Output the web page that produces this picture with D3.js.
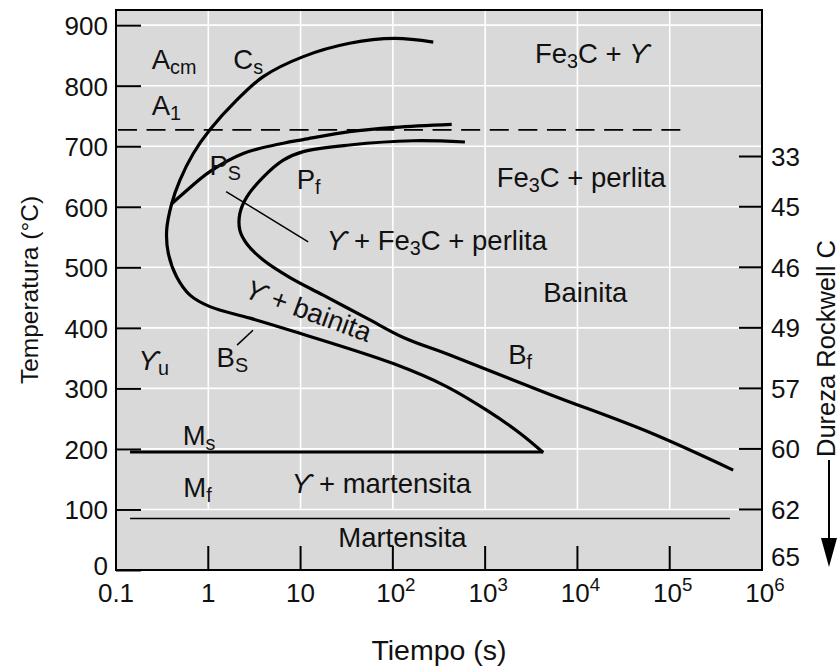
<!DOCTYPE html>
<html>
<head>
<meta charset="utf-8">
<script src="https://d3js.org/d3.v7.min.js"></script>
<style>
    body { margin: 0; background: #fff; }
    text { font-family: "Liberation Sans", Arial, sans-serif; fill: #111; }
</style>
</head>
<body>
<div id="ttt_diagram"></div>
<script>
// Axis ticks
const timeTicks = [0.1, 1, 10, 100, 1e3, 1e4, 1e5, 1e6];
const timeTickLabels = ["0.1", "1", "10", "10^{2}", "10^{3}", "10^{4}", "10^{5}", "10^{6}"];
const tempTicks = [0, 100, 200, 300, 400, 500, 600, 700, 800, 900];

// Rockwell hardness scale on the right (label, temperature it sits at)
const hardnessLabels = ["33", "45", "46", "49", "57", "60", "62", "65"];
const hardnessTemps = [683, 600, 500, 400, 300, 200, 100, 22];

// Start curve (Cs, nose, then Bs down to Ms)
const startTime = [274, 105, 34, 10.7, 3.94, 2.03, 1.04, 0.688, 0.493, 0.401, 0.354, 0.369, 0.455, 0.634, 1.04, 2.83, 7.68, 101, 383, 1038, 2383, 4260];
const startTemp = [872, 878, 870, 848, 815, 776, 727, 688, 644, 605, 561, 523, 484, 454, 435, 416, 396, 341, 303, 264, 226, 194];

// Pearlite start curve (Ps)
const psTime = [0.401, 0.536, 1.04, 2.39, 6.5, 10.7, 34, 105, 434];
const psTemp = [605, 622, 658, 688, 705, 711, 724, 731, 736];

// Finish curve (Pf then Bf)
const finishTime = [604, 166, 34, 10.7, 6.5, 3.94, 2.61, 2.2, 2.2, 2.61, 3.94, 7.68, 17.6, 52, 130, 415, 5035, 61000, 487000];
const finishTemp = [707, 709, 702, 691, 677, 649, 616, 589, 561, 539, 512, 483, 454, 416, 384, 355, 290, 227, 165];

// Horizontal lines: A1 (dashed), Ms, Mf
const a1Temp = 727, a1Time = [0.105, 152000];
const msTemp = 195, msTime = [0.142, 4260];
const mfTemp = 85, mfTime = [0.142, 449000];

// Leader lines [time, temp] pairs
const psLeader = [[1.56, 625], [12.1, 542]];
const bsLeader = [[3.05, 396], [2.05, 371.5]];

// Region labels
const labelTexts = ["A_{cm}", "C_{s}", "A_{1}", "P_{S}", "P_{f}", "Fe_{3}C + ϒ", "Fe_{3}C + perlita",
    "ϒ + Fe_{3}C + perlita", "Bainita", "ϒ + bainita", "B_{S}", "ϒ_{u}", "B_{f}", "M_{s}", "M_{f}",
    "ϒ + martensita", "Martensita"];
const labelTime = [0.244, 1.87, 0.244, 1.03, 9.07, 3470, 1333, 19.2, 4260, 2.39, 1.23, 0.175, 1780, 0.528, 0.536, 8.0, 25.6];
const labelTemp = [827, 827, 751, 652, 630, 838, 633, 528, 443, 451, 336, 330, 341, 206, 121, 127, 38.5];
const labelAngle = [0, 0, 0, 0, 0, 0, 0, 0, 0, 20, 0, 0, 0, 0, 0, 0, 0];

// plain text piece, with the gamma sign set in italics
function plainText(sel, s, dy) {
    s.split(/(ϒ)/).filter(p => p.length).forEach((p, k) => {
        const t = sel.append("tspan").text(p);
        if (k == 0 && dy) t.attr("dy", dy);
        if (p == "ϒ") t.attr("font-style", "italic");
    });
}

// write text with _{sub} and ^{sup} parts as tspans
function richText(sel, str) {
    const re = /([_^])\{([^}]*)\}/g;
    let last = 0, m, shift = 0;
    while ((m = re.exec(str)) !== null) {
        if (m.index > last) {
            plainText(sel, str.slice(last, m.index), -shift);
            shift = 0;
        }
        const d = m[1] == "_" ? 5 : -11;
        sel.append("tspan").attr("dy", d - shift).attr("font-size", "0.72em").text(m[2]);
        shift = d;
        last = re.lastIndex;
    }
    if (last < str.length) {
        plainText(sel, str.slice(last), -shift);
    }
}

// set the dimensions of the plot
const margin = { top: 10, right: 78, bottom: 98, left: 116 };
const W = 840, H = 668;
const width = W - margin.left - margin.right;
const height = H - margin.top - margin.bottom;

var svg = d3.select("#ttt_diagram")
    .append("svg")
    .attr("width", W)
    .attr("height", H)
    .style("font-size", "26px");

var x = d3.scaleLog()
    .domain([0.1, 1e6])
    .range([margin.left, margin.left + width]);
var y = d3.scaleLinear()
    .domain([0, 925])
    .range([margin.top + height, margin.top]);

// background
svg.append("rect")
    .attr("x", x(0.1)).attr("y", y(925))
    .attr("width", width).attr("height", height)
    .attr("fill", "#d9d9d9");

// white grid
svg.append("g")
    .selectAll("line")
    .data(timeTicks.slice(1, -1))
    .enter().append("line")
    .attr("x1", d => x(d)).attr("x2", d => x(d))
    .attr("y1", y(925)).attr("y2", y(100))
    .attr("stroke", "#fff").attr("stroke-width", 1.6);
svg.append("g")
    .selectAll("line")
    .data(tempTicks.slice(1))
    .enter().append("line")
    .attr("x1", x(0.1)).attr("x2", x(1e6))
    .attr("y1", d => y(d)).attr("y2", d => y(d))
    .attr("stroke", "#fff").attr("stroke-width", 1.6);

// Left axis
var yAxis = svg.append("g")
    .attr("transform", "translate(" + margin.left + ",0)")
    .call(d3.axisLeft(y).tickValues(tempTicks).tickSize(-25).tickPadding(8));
yAxis.select(".domain").remove();
yAxis.selectAll("line").attr("stroke-width", 2);
yAxis.selectAll("text")
    .attr("font-size", 26).attr("font-family", null)
    .attr("dy", d => d == 0 ? "0.18em" : "0.36em");

// bottom ticks (inside)
svg.append("g")
    .selectAll("line")
    .data(timeTicks.slice(1, -1))
    .enter().append("line")
    .attr("x1", d => x(d)).attr("x2", d => x(d))
    .attr("y1", y(0)).attr("y2", y(0) - 24)
    .attr("stroke", "#000").attr("stroke-width", 2);

// bottom tick labels
svg.append("g")
    .selectAll("text")
    .data(timeTicks)
    .enter().append("text")
    .attr("x", (d, i) => x(d) + (i >= 3 ? 3 : 0))
    .attr("y", y(0) + 32)
    .attr("text-anchor", "middle")
    .each(function(d, i) { richText(d3.select(this), timeTickLabels[i]); });

// right ticks and hardness labels (65 has no tick)
svg.append("g")
    .selectAll("line")
    .data(hardnessTemps.slice(0, -1))
    .enter().append("line")
    .attr("x1", x(1e6) - 23).attr("x2", x(1e6))
    .attr("y1", d => y(d)).attr("y2", d => y(d))
    .attr("stroke", "#000").attr("stroke-width", 2);
svg.append("g")
    .selectAll("text")
    .data(hardnessLabels)
    .enter().append("text")
    .attr("x", x(1e6) + 9)
    .attr("y", (d, i) => y(hardnessTemps[i]))
    .attr("dy", "0.36em")
    .text(d => d);

// frame
svg.append("rect")
    .attr("x", x(0.1)).attr("y", y(925))
    .attr("width", width).attr("height", height)
    .attr("fill", "none")
    .attr("stroke", "#000").attr("stroke-width", 2);

// horizontal lines
const hline = (t, tm) => "M" + x(tm[0]) + "," + y(t) + "H" + x(tm[1]);
svg.append("path").attr("d", hline(a1Temp, a1Time))
    .attr("stroke", "#000").attr("stroke-width", 1.6).attr("stroke-dasharray", "19,9.6").attr("fill", "none");
svg.append("path").attr("d", hline(msTemp, msTime))
    .attr("stroke", "#000").attr("stroke-width", 3).attr("fill", "none");
svg.append("path").attr("d", hline(mfTemp, mfTime))
    .attr("stroke", "#000").attr("stroke-width", 1.5).attr("fill", "none");

// curves
var line = d3.line()
    .x(d => x(d[0]))
    .y(d => y(d[1]))
    .curve(d3.curveCatmullRom.alpha(0.5));
const zip = (a, b) => a.map((v, i) => [v, b[i]]);

[[startTime, startTemp], [psTime, psTemp], [finishTime, finishTemp]].forEach(c => {
    svg.append("path")
        .attr("d", line(zip(c[0], c[1])))
        .attr("fill", "none")
        .attr("stroke", "#000")
        .attr("stroke-width", 3.2)
        .attr("stroke-linejoin", "round");
});

[psLeader, bsLeader].forEach(l => {
    svg.append("path")
        .attr("d", d3.line().x(d => x(d[0])).y(d => y(d[1]))(l))
        .attr("stroke", "#000").attr("stroke-width", 1.5);
});

// region labels
svg.append("g")
    .style("font-size", "27.5px")
    .selectAll("text")
    .data(labelTexts)
    .enter().append("text")
    .attr("transform", (d, i) => "translate(" + x(labelTime[i]) + "," + y(labelTemp[i]) + ") rotate(" + labelAngle[i] + ")")
    .each(function(d) { richText(d3.select(this), d); });

// axis titles
svg.append("text")
    .attr("text-anchor", "middle")
    .attr("x", (x(0.1) + x(1e6)) / 2)
    .attr("y", 660)
    .style("font-size", "28.5px")
    .text("Tiempo (s)");
svg.append("text")
    .attr("text-anchor", "middle")
    .attr("transform", "translate(38," + (margin.top + height / 2) + ") rotate(-90)")
    .style("font-size", "24.5px")
    .text("Temperatura (°C)");
svg.append("text")
    .attr("text-anchor", "start")
    .attr("transform", "translate(835,457) rotate(-90)")
    .style("font-size", "25.5px")
    .text("Dureza Rockwell C");

// arrow under the hardness title
svg.append("line")
    .attr("x1", 829).attr("x2", 829)
    .attr("y1", 460).attr("y2", 545)
    .attr("stroke", "#000").attr("stroke-width", 2);
svg.append("path")
    .attr("d", "M821,538L837,538L829,567Z")
    .attr("fill", "#000");
</script>
</body>
</html>
